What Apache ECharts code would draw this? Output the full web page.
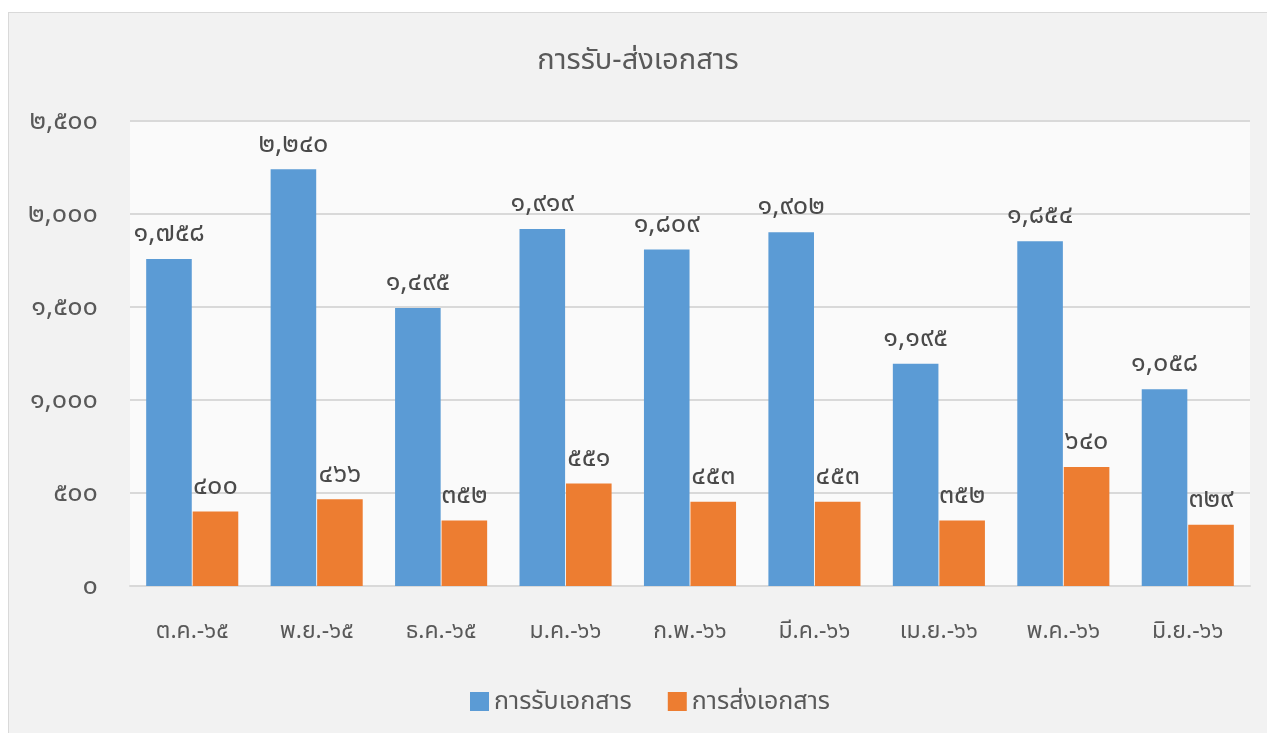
<!DOCTYPE html>
<html>
<head>
<meta charset="utf-8">
<script src="https://cdn.jsdelivr.net/npm/echarts@6/dist/echarts.min.js"></script>
<style>
html,body{margin:0;padding:0;background:#ffffff;width:1267px;height:733px;overflow:hidden;}
#frame{position:absolute;left:8px;top:12px;width:1270px;height:730px;border:1px solid #d9d9d9;box-sizing:border-box;}
#chart{position:absolute;left:9px;top:13px;width:1258px;height:720px;background:#f2f2f2;}
</style>
</head>
<body>
<div id="frame"></div>
<div id="chart"></div>
<script>
const titleText = 'การรับ-ส่งเอกสาร';
const categories = ['ต.ค.-๖๕','พ.ย.-๖๕','ธ.ค.-๖๕','ม.ค.-๖๖','ก.พ.-๖๖','มี.ค.-๖๖','เม.ย.-๖๖','พ.ค.-๖๖','มิ.ย.-๖๖'];
const seriesNames = ['การรับเอกสาร','การส่งเอกสาร'];
const receiveValues = [1758, 2240, 1495, 1919, 1809, 1902, 1195, 1854, 1058];
const sendValues = [400, 466, 352, 551, 453, 453, 352, 640, 329];
const yMax = 2500;
const yInterval = 500;

const thaiDigits = '๐๑๒๓๔๕๖๗๘๙';
function toThai(v){
  const s = Number(v).toLocaleString('en-US');
  return s.replace(/[0-9]/g, d => thaiDigits[+d]);
}

const FONT = '"Noto Sans", "Noto Sans Thai", sans-serif';
const chart = echarts.init(document.getElementById('chart'));
chart.setOption({
  backgroundColor: '#f2f2f2',
  textStyle: {fontFamily: FONT},
  title: {
    text: titleText,
    left: 'center',
    top: 28,
    textStyle: {fontFamily: FONT, fontSize: 29, fontWeight: 'normal', color: '#595959'}
  },
  legend: {
    bottom: 14,
    left: 456,
    itemWidth: 19,
    itemHeight: 19,
    itemGap: 36,
    icon: 'rect',
    textStyle: {fontFamily: FONT, fontSize: 25, color: '#595959'},
    data: seriesNames
  },
  grid: {
    left: 121, top: 108, right: 17, bottom: 147,
    show: true, backgroundColor: '#fafafa', borderWidth: 0
  },
  xAxis: {
    type: 'category',
    data: categories,
    axisLine: {show: true, lineStyle: {color: '#d9d9d9', width: 2}},
    axisTick: {show: false},
    axisLabel: {fontFamily: FONT, fontSize: 23, color: '#595959', margin: 34}
  },
  yAxis: {
    type: 'value',
    min: 0, max: yMax, interval: yInterval,
    axisLine: {show: false},
    axisTick: {show: false},
    splitLine: {lineStyle: {color: '#d9d9d9', width: 2}},
    axisLabel: {fontFamily: FONT, fontSize: 27, color: '#595959', margin: 32, formatter: v => toThai(v)}
  },
  series: [
    {
      name: seriesNames[0], type: 'bar', data: receiveValues,
      barGap: '2%', barCategoryGap: '26%',
      itemStyle: {color: '#5b9bd5'},
      label: {show: true, position: 'top', distance: 12, fontFamily: FONT, fontSize: 27, color: '#4a4a4a', formatter: p => toThai(p.value)}
    },
    {
      name: seriesNames[1], type: 'bar', data: sendValues,
      itemStyle: {color: '#ed7d31'},
      label: {show: true, position: 'top', distance: 12, fontFamily: FONT, fontSize: 27, color: '#4a4a4a', formatter: p => toThai(p.value)}
    }
  ]
});
</script>
</body>
</html>
